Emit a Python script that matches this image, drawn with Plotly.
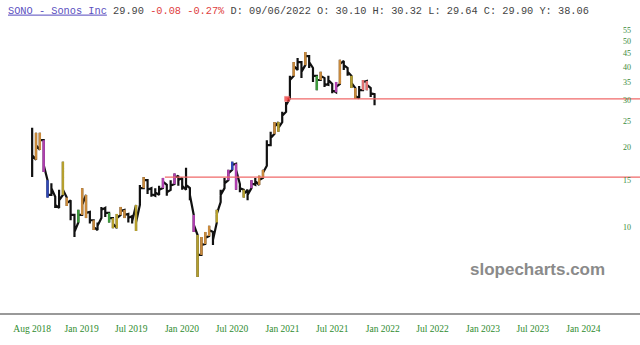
import plotly.graph_objects as go
import pandas as pd

# ---- data (bi-weekly bars) ----
start_date = "2018-07-05"
closes = [18.6, 20.3, 21.2, 17.1, 13.2, 14.0, 12.1, 12.6, 13.8, 12.3,
          11.1, 9.58, 11.1, 12.1, 11.3, 10.6, 10.0, 10.1, 11.6, 11.3,
          10.8, 10.3, 10.8, 11.5, 11.1, 10.8, 10.5, 10.4, 14.0, 15.0,
          13.8, 13.3, 13.5, 13.8, 14.8, 13.5, 14.3, 15.3, 15.0, 14.3,
          14.4, 13.2, 10.2, 7.85, 8.55, 9.09, 9.74, 8.93, 11.2, 13.2,
          14.6, 15.9, 17.1, 16.4, 14.0, 13.3, 13.2, 14.6, 14.9, 15.0,
          16.0, 20.3, 21.6, 23.8, 23.6, 26.2, 28.7, 35.7, 40.3, 41.7,
          38.3, 43.9, 41.7, 37.0, 35.7, 37.0, 34.5, 35.7, 32.7, 33.6,
          41.0, 40.6, 38.3, 34.8, 31.1, 32.7, 35.1, 34.2, 31.8, 29.5]
highs = [23.6, 22.6, 22.6, 21.2, 15.0, 14.6, 13.0, 13.8, 17.6, 12.9,
         12.6, 11.1, 11.6, 14.0, 13.2, 11.4, 10.6, 10.4, 11.9, 11.8,
         11.3, 10.8, 11.2, 11.9, 11.6, 11.2, 11.0, 12.1, 14.4, 15.4,
         15.0, 14.0, 14.0, 14.3, 15.3, 14.4, 15.0, 15.9, 15.6, 15.3,
         16.7, 14.0, 11.1, 9.33, 9.17, 9.58, 10.1, 9.58, 11.6, 13.8,
         15.3, 16.4, 17.6, 17.3, 14.5, 13.8, 13.8, 15.0, 15.3, 15.6,
         16.4, 21.2, 22.8, 24.8, 24.8, 27.1, 29.5, 37.0, 41.7, 43.2,
         41.7, 45.5, 43.9, 39.6, 37.0, 38.3, 36.3, 37.0, 34.5, 35.1,
         42.5, 42.1, 39.6, 37.0, 33.3, 33.9, 35.7, 35.4, 33.3, 31.6]
lows = [15.4, 17.9, 19.5, 16.1, 12.9, 13.2, 11.8, 11.8, 13.2, 12.0,
        10.6, 9.17, 10.4, 11.1, 10.8, 10.3, 9.74, 9.74, 10.8, 10.9,
        10.4, 9.9, 9.9, 11.1, 10.8, 10.4, 10.3, 9.66, 12.1, 14.0,
        13.3, 13.0, 13.1, 13.2, 14.0, 13.1, 13.8, 14.5, 14.3, 13.8,
        13.8, 12.6, 9.58, 6.49, 7.85, 8.63, 9.25, 8.55, 10.4, 12.4,
        14.0, 15.0, 16.4, 13.8, 13.5, 12.9, 12.6, 14.0, 14.4, 14.4,
        15.3, 17.0, 20.3, 22.4, 22.8, 24.8, 27.1, 30.5, 37.0, 38.9,
        36.3, 40.6, 39.6, 35.1, 32.7, 35.7, 33.6, 34.2, 31.8, 32.1,
        34.5, 38.9, 37.0, 33.3, 30.3, 30.5, 32.7, 32.7, 30.8, 28.7]
bar_colors = list("koopbkkkyokkgookokkkgyyookkykokkkkpkkpkkkkpyoookykkpbpkykpkookkoykkkokkokkgokkkpokkyokrrkk")

color_map = {"k": "#111111", "o": "#c98a3c", "y": "#b59f2e", "g": "#3c9a3c",
             "p": "#b040b0", "b": "#3048b8", "r": "#e07070"}

support_levels = [30.3, 15.4]
support_starts = ["2021-01-18", "2019-10-31"]

tick_dates = ["2018-07-05", "2019-01-01", "2019-07-01", "2020-01-01", "2020-07-01",
              "2021-01-01", "2021-07-01", "2022-01-01", "2022-07-01", "2023-01-01",
              "2023-07-01", "2024-01-01"]
tick_text = ["Aug 2018", "Jan 2019", "Jul 2019", "Jan 2020", "Jul 2020", "Jan 2021",
             "Jul 2021", "Jan 2022", "Jul 2022", "Jan 2023", "Jul 2023", "Jan 2024"]
y_ticks = [10, 15, 20, 25, 30, 35, 40, 45, 50, 55]

x_range = ["2018-03-10", "2024-07-25"]

# ---- build ----
dates = pd.date_range(start_date, periods=len(closes), freq="14D")

# black base path: prev close -> bar range -> close
base_x, base_y = [], []
for i in range(len(closes)):
    d = dates[i]
    up = i > 0 and closes[i] >= closes[i - 1]
    first, second = (lows[i], highs[i]) if up else (highs[i], lows[i])
    base_x += [d, d, d]
    base_y += [first, second, closes[i]]

fig = go.Figure()
fig.add_trace(go.Scatter(x=base_x, y=base_y, mode="lines",
                         line=dict(color=color_map["k"], width=2.2),
                         showlegend=False, hoverinfo="skip"))

# coloured bars drawn over the base path
for code, col in color_map.items():
    if code == "k":
        continue
    xs, ys = [], []
    for i in range(len(closes)):
        if bar_colors[i] == code:
            xs += [dates[i], dates[i], None]
            ys += [lows[i], highs[i], None]
    if xs:
        fig.add_trace(go.Scatter(x=xs, y=ys, mode="lines", line=dict(color=col, width=2.4),
                                 showlegend=False, hoverinfo="skip"))

for lvl, st in zip(support_levels, support_starts):
    fig.add_trace(go.Scatter(x=[st, x_range[1]], y=[lvl, lvl], mode="lines+markers",
                             line=dict(color="#f06868", width=1.3),
                             marker=dict(size=[5 if lvl == support_levels[0] else 0, 0],
                                         color="#ee2222", symbol="square"),
                             showlegend=False, hoverinfo="skip"))

header = ('<span style="color:#5a4fc0;text-decoration:underline">SONO - Sonos Inc</span>'
          '<span style="color:#444"> 29.90 </span>'
          '<span style="color:#e04040">-0.08 -0.27%</span>'
          '<span style="color:#444"> D: 09/06/2022 O: 30.10 H: 30.32 L: 29.64 C: 29.90 Y: 38.06</span>')

fig.update_layout(
    width=640, height=345,
    margin=dict(l=0, r=0, t=22, b=32),
    paper_bgcolor="white", plot_bgcolor="white",
    title=dict(text=header, x=8/640, xanchor="left", y=1-10/345, yanchor="middle",
               font=dict(family="Liberation Mono", size=10.3, color="#444")),
    xaxis=dict(type="date", range=x_range,
               tickvals=tick_dates, ticktext=tick_text, showgrid=False, zeroline=False,
               showline=True, linecolor="#999999", linewidth=2,
               ticks="outside", ticklen=6, tickcolor="rgba(0,0,0,0)",
               tickfont=dict(family="Liberation Serif", size=9.5, color="#2e8b2e")),
    yaxis=dict(type="log", range=[0.6767, 1.7707], side="right", ticklabelposition="inside",
               tickvals=y_ticks, ticktext=[str(v) for v in y_ticks], showgrid=False,
               zeroline=False, showline=False, ticks="", ticklabelstandoff=6,
               tickfont=dict(family="Liberation Serif", size=8, color="#3a8a3a")),
    annotations=[dict(text="slopecharts.com", xref="paper", yref="paper",
                      x=537/640, y=(313-269)/291, xanchor="center", yanchor="middle",
                      showarrow=False,
                      font=dict(family="Liberation Sans", size=17, color="#8a8a8a", weight="bold"))],
)

fig.write_html("out.html")
